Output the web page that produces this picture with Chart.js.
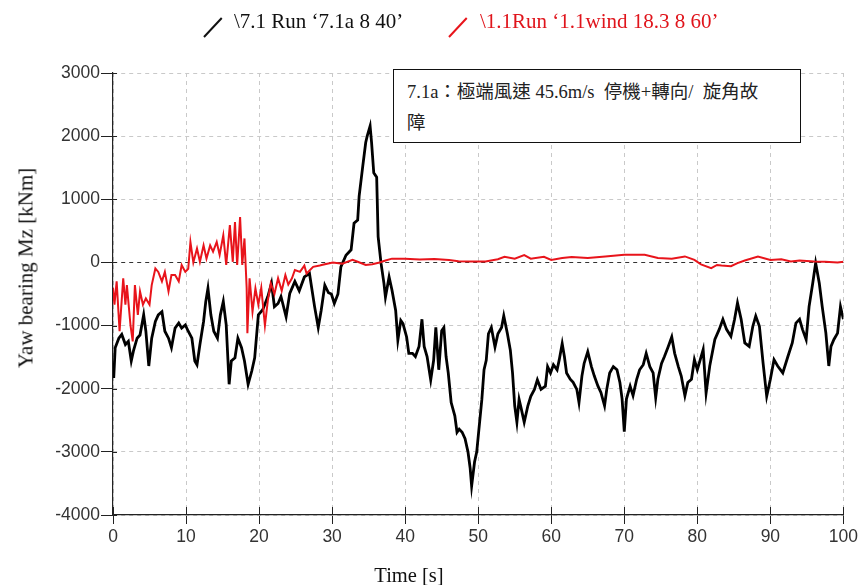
<!DOCTYPE html>
<html>
<head>
<meta charset="utf-8">
<script src="https://cdn.jsdelivr.net/npm/chart.js@4.4.1/dist/chart.umd.min.js"></script>
<style>
  html, body { margin: 0; padding: 0; background: #fff; }
  .wrap { position: relative; width: 861px; height: 585px; overflow: hidden; }
  #yawChart { position: absolute; left: 0; top: 0; }
  .legend { position: absolute; left: 0; top: 9px; font-family: "Liberation Serif", "Times New Roman", serif; font-size: 21px; white-space: nowrap; }
  .legend .sym { position: absolute; width: 26px; height: 2px; transform: rotate(-47deg); transform-origin: left center; }
  .ytitle { position: absolute; left: 26px; top: 268px; transform: translate(-50%, -50%) rotate(-90deg); font-family: "Liberation Serif", serif; font-size: 21px; white-space: nowrap; color: #111; }
  .xtitle { position: absolute; left: 409px; top: 575px; transform: translate(-50%, -50%); font-family: "Liberation Serif", serif; font-size: 20.5px; white-space: nowrap; color: #111; }
  .note { position: absolute; left: 393px; top: 69px; width: 408px; height: 74px; border: 1.5px solid #111; background: #fff; font-family: "Liberation Serif", "Noto Sans CJK TC", serif; font-size: 18.5px; line-height: 31px; color: #222; box-sizing: border-box; padding: 7px 0 0 13px; z-index: 2; }
</style>
</head>
<body>
<div class="wrap">
  <canvas id="yawChart" width="861" height="585"></canvas>

  <div class="legend">
    <span class="sym" style="left:204px; top:27px; background:#111;"></span>
    <span style="position:absolute; left:234px; color:#111;">\7.1 Run ‘7.1a 8 40’</span>
    <span class="sym" style="left:449px; top:27px; background:#e8141b;"></span>
    <span style="position:absolute; left:480px; color:#e0141b;">\1.1Run ‘1.1wind 18.3 8 60’</span>
  </div>

  <div class="note">7.1a：極端風速 45.6m/s&nbsp; 停機+轉向/&nbsp; 旋角故<br>障</div>

  <div class="ytitle">Yaw bearing Mz [kNm]</div>
  <div class="xtitle">Time [s]</div>
</div>

<script>
// ---- data ----
const yTicks = [-4000, -3000, -2000, -1000, 0, 1000, 2000, 3000];
const xTicks = [0, 10, 20, 30, 40, 50, 60, 70, 80, 90, 100];

// \7.1 Run '7.1a 8 40'  (black)
const blackTime = [0.1, 0.3, 0.8, 1.2, 1.7, 2.1, 2.5, 2.8, 3.3, 3.7, 4.2, 4.5, 4.9, 5.3, 5.8, 6.2, 6.7, 7.1, 7.6, 8.0,
  8.5, 9.0, 9.4, 9.9, 10.3, 10.8, 11.2, 11.5, 11.9, 12.4, 12.7, 13.0, 13.4, 13.8, 14.3, 14.7, 15.1, 15.5, 15.9, 16.2,
  16.7, 17.1, 17.6, 18.0, 18.5, 19.0, 19.4, 19.9, 20.5, 21.2, 21.7, 22.1, 22.6, 23.0, 23.7, 24.2, 24.9, 25.5, 26.2, 26.9,
  27.6, 28.1, 28.5, 29.0, 29.5, 29.9, 30.3, 30.8, 31.2, 31.9, 32.6, 33.0, 33.5, 33.7, 34.2, 34.6, 34.8, 35.2, 35.4, 35.7,
  36.1, 36.3, 36.7, 37.1, 37.3, 37.8, 38.2, 38.7, 39.0, 39.4, 39.7, 40.2, 40.5, 41.0, 41.4, 41.9, 42.3, 42.6, 43.0, 43.5,
  43.9, 44.2, 44.6, 45.0, 45.3, 45.6, 45.9, 46.3, 46.8, 47.1, 47.4, 47.8, 48.2, 48.6, 48.9, 49.1, 49.5, 49.8, 50.1, 50.5,
  50.8, 51.1, 51.4, 51.8, 52.3, 52.7, 53.2, 53.5, 54.0, 54.4, 54.7, 55.0, 55.3, 55.6, 55.9, 56.3, 56.8, 57.2, 57.7, 58.1,
  58.6, 59.2, 59.5, 59.9, 60.3, 60.8, 61.1, 61.5, 61.8, 62.1, 62.6, 63.0, 63.5, 63.8, 64.2, 64.5, 65.0, 65.5, 65.9, 66.4,
  66.8, 67.3, 67.6, 68.0, 68.5, 69.0, 69.4, 69.7, 70.0, 70.3, 70.8, 71.2, 71.7, 72.1, 72.6, 73.0, 73.5, 73.95, 74.3, 74.6,
  75.1, 75.5, 76.0, 76.5, 76.9, 77.4, 77.8, 78.3, 78.7, 79.2, 79.6, 80.0, 80.8, 81.2, 81.7, 82.4, 83.0, 83.5, 84.0, 84.6,
  85.1, 85.5, 86.0, 86.5, 87.1, 87.6, 88.0, 88.5, 89.0, 89.5, 90.0, 90.5, 91.0, 91.7, 92.4, 93.0, 93.5, 94.0, 94.4, 94.9,
  95.3, 95.8, 96.2, 96.7, 97.1, 97.6, 98.0, 98.3, 98.7, 99.2, 99.6, 100];
const blackMz = [-1830, -1350, -1200, -1140, -1300, -1250, -1560, -1400, -1200, -1150, -830, -1090, -1640, -1200, -935, -830, -780, -1090, -1200, -1350,
  -1040, -960, -1040, -990, -1090, -1200, -1560, -1620, -1300, -935, -620, -410, -830, -1090, -1200, -830, -620, -990, -1930, -1560,
  -1510, -1200, -1350, -1560, -1930, -1720, -1510, -830, -750, -540, -330, -700, -650, -540, -860, -490, -300, -450, -230, -175,
  -700, -1030, -760, -360, -480, -500, -650, -500, -70, 115, 200, 620, 670, 1050, 1530, 1900, 2000, 2160, 1900, 1420,
  1350, 410, -15, -335, -550, -230, -440, -760, -1230, -920, -970, -1180, -1440, -1440, -1490, -1330, -900, -1330, -1490, -1860,
  -1550, -1030, -1700, -1080, -1030, -1490, -1750, -2220, -2430, -2690, -2640, -2690, -2790, -3000, -3260, -3540, -3160, -3000, -2640, -2170,
  -1700, -1550, -1130, -1030, -1340, -1130, -1030, -845, -1130, -1390, -1750, -2270, -2530, -2170, -2320, -2530, -2270, -2120, -2010, -1860,
  -2010, -1960, -1650, -1750, -1620, -1700, -1540, -1285, -1490, -1750, -1850, -1900, -2010, -2220, -1800, -1600, -1415, -1650, -1800, -1960,
  -2060, -2270, -2010, -1750, -1650, -1700, -1900, -2160, -2680, -2160, -1960, -2110, -1850, -1700, -1620, -1440, -1650, -1750, -2140, -1850,
  -1600, -1490, -1340, -1180, -1440, -1650, -1800, -2110, -1900, -1850, -1540, -1700, -1380, -2070, -1640, -1220, -1060, -900, -1060, -1170,
  -900, -640, -900, -1275, -1330, -1010, -850, -1010, -1590, -2120, -1850, -1540, -1640, -1750, -1490, -1275, -960, -900, -1060, -1220,
  -700, -330, -10, -330, -700, -1120, -1640, -1330, -1220, -1120, -700, -900];

// \1.1Run '1.1wind 18.3 8 60'  (red)
const redTime = [0, 0.2, 0.5, 0.9, 1.4, 1.7, 1.9, 2.4, 2.7, 3.0, 3.4, 3.7, 4.1, 4.5, 5.0, 5.3, 5.8, 6.2, 6.7, 7.1,
  7.6, 8.0, 8.5, 9.0, 9.4, 9.9, 10.3, 10.6, 11.0, 11.5, 11.9, 12.4, 12.8, 13.3, 13.7, 14.2, 14.6, 15.1, 15.5, 16.0,
  16.4, 16.7, 17.0, 17.4, 17.7, 18.0, 18.3, 18.4, 18.7, 19.1, 19.5, 19.9, 20.3, 20.8, 21.2, 21.6, 22.1, 22.6, 23.1, 23.6,
  24.0, 24.5, 24.9, 25.6, 26.2, 26.5, 27.4, 28.3, 29.0, 30.1, 31.4, 32.8, 33.5, 34.6, 35.5, 36.5, 37.3, 38.2, 40, 42,
  44, 46, 47.3, 49, 51, 52.7, 53.6, 55, 56.3, 57.2, 59, 60, 61.5, 62.8, 65, 67.4, 70, 72.8, 74.6, 76.5,
  78.3, 79.6, 80.5, 81.9, 82.7, 83.3, 84.6, 85.5, 86.5, 88.3, 90, 91.5, 92.8, 94, 96, 97.5, 99.2, 100];
const redMz = [-400, -670, -300, -1090, -250, -670, -360, -1000, -1250, -360, -830, -460, -670, -570, -670, -360, -95, -150, -300, -150,
  -460, -200, -200, -300, -40, -150, -100, 325, 0, 220, 10, 270, 60, 270, 170, 325, 120, 430, -40, 590,
  10, 640, -40, 720, -40, 380, -410, -1120, -250, -780, -410, -670, -400, -1000, -600, -330, -500, -250, -450, -200,
  -350, -250, -120, -150, -50, -175, -70, -50, -30, 0, -20, 40, 10, -40, -30, 0, 30, 60, 60, 45,
  55, 40, 20, 15, 15, 50, 90, 60, 115, 60, 90, 40, 70, 85, 70, 95, 120, 120, 70, 60,
  95, 40, -30, -90, -40, -50, -60, -10, 30, 95, 40, 50, 15, 30, 15, 10, 0, 10];

const toPoints = (xs, ys) => xs.map((x, i) => ({ x: x, y: ys[i] }));

/* tick marks that also reach a little into the plot, like the original */
const innerTicks = {
  id: 'innerTicks',
  afterDatasetsDraw(chart) {
    const { ctx, chartArea, scales } = chart;
    ctx.save();
    ctx.strokeStyle = '#222';
    ctx.lineWidth = 1;
    ctx.beginPath();
    xTicks.forEach(v => {
      const px = Math.round(scales.x.getPixelForValue(v)) + 0.5;
      ctx.moveTo(px, chartArea.bottom);
      ctx.lineTo(px, chartArea.bottom - 8);
    });
    yTicks.forEach(v => {
      const py = Math.round(scales.y.getPixelForValue(v)) + 0.5;
      ctx.moveTo(chartArea.left, py);
      ctx.lineTo(chartArea.left + 4, py);
    });
    ctx.stroke();
    ctx.restore();
  }
};

const tickFont = { family: '"Liberation Sans", Arial, sans-serif', size: 17.5 };

new Chart(document.getElementById('yawChart').getContext('2d'), {
  type: 'line',
  data: {
    datasets: [
      {
        label: '\\7.1 Run ‘7.1a 8 40’',
        data: toPoints(blackTime, blackMz),
        borderColor: '#000',
        borderWidth: 2.8,
        pointRadius: 0,
        tension: 0,
        order: 1
      },
      {
        label: '\\1.1Run ‘1.1wind 18.3 8 60’',
        data: toPoints(redTime, redMz),
        borderColor: '#e8141b',
        borderWidth: 2,
        pointRadius: 0,
        tension: 0,
        order: 0
      }
    ]
  },
  options: {
    responsive: false,
    animation: false,
    events: [],
    layout: { padding: { left: 0, right: 15, top: 73, bottom: 0 } },
    plugins: { legend: { display: false }, tooltip: { enabled: false } },
    scales: {
      x: {
        type: 'linear',
        min: 0, max: 100,
        afterFit: s => { s.height = 70; },
        afterBuildTicks: s => { s.ticks = xTicks.map(v => ({ value: v })); },
        ticks: { color: '#333', font: tickFont, padding: 3, maxRotation: 0, callback: v => String(v) },
        grid: { color: '#c9c9c9', lineWidth: 1, tickLength: 9, tickColor: '#222', tickBorderDash: [] },
        border: { color: '#222', width: 1.2, dash: [4, 4] }
      },
      y: {
        min: -4000, max: 3000,
        afterFit: s => { s.width = 113; },
        afterBuildTicks: s => { s.ticks = yTicks.map(v => ({ value: v })); },
        ticks: { color: '#333', font: tickFont, padding: 1, callback: v => String(v) },
        grid: {
          color: c => c.tick && c.tick.value === 0 ? '#333' : '#c9c9c9',
          lineWidth: 1, tickLength: 12, tickColor: '#222', tickBorderDash: []
        },
        border: { color: '#222', width: 1.2, dash: [4, 4] }
      }
    }
  },
  plugins: [innerTicks]
});
</script>
</body>
</html>
